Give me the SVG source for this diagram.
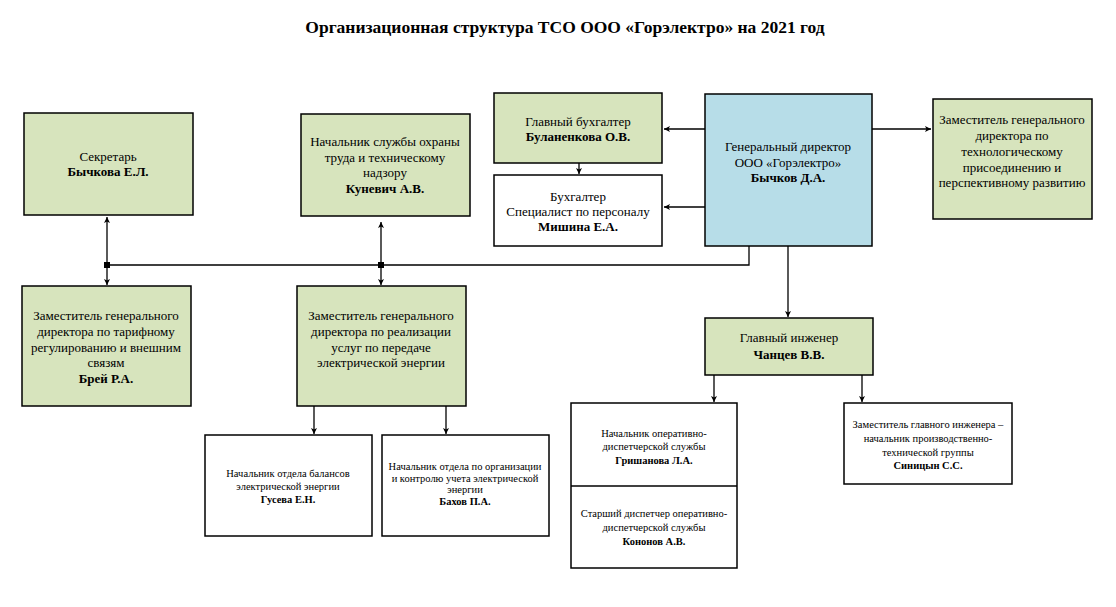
<svg xmlns="http://www.w3.org/2000/svg" width="1116" height="607" viewBox="0 0 1116 607">
<style>
.box{stroke:#000;stroke-width:1.5}
.g{fill:#d7e4bd}
.b{fill:#b7dde8}
.w{fill:#fff}
text{font-family:"Liberation Serif","Times New Roman",serif;fill:#000;text-anchor:middle}
.t13{font-size:13px}
.t11{font-size:10.5px}
.bold{font-weight:bold}
.title{font-size:17.5px;font-weight:bold}
.c{stroke:#000;stroke-width:1.3;fill:none}
</style>
<defs>
<marker id="ar" markerUnits="userSpaceOnUse" markerWidth="8" markerHeight="8" refX="6" refY="3" orient="auto">
<path d="M0,0 L6,3 L0,6 L1.5,3 z" fill="#000"/>
</marker>
</defs>
<rect width="1116" height="607" fill="#fff"/>
<text class="title" x="565" y="33">Организационная структура ТСО ООО «Горэлектро» на 2021 год</text>

<g id="connectors">
<path class="c" d="M107,265 H749 V246"/>
<path class="c" d="M107,265 V217" marker-end="url(#ar)"/>
<path class="c" d="M107,265 V285" marker-end="url(#ar)"/>
<path class="c" d="M381,265 V222" marker-end="url(#ar)"/>
<path class="c" d="M381,265 V285" marker-end="url(#ar)"/>
<rect x="104" y="262" width="6" height="6" fill="#000"/>
<rect x="378" y="262" width="6" height="6" fill="#000"/>
<path class="c" d="M705,129 H664" marker-end="url(#ar)"/>
<path class="c" d="M705,207 H664" marker-end="url(#ar)"/>
<path class="c" d="M872,129 H931" marker-end="url(#ar)"/>
<path class="c" d="M579,163 V174" marker-end="url(#ar)"/>
<path class="c" d="M788,246 V317" marker-end="url(#ar)"/>
<path class="c" d="M714,375 V402" marker-end="url(#ar)"/>
<path class="c" d="M862,375 V402" marker-end="url(#ar)"/>
<path class="c" d="M314,406 V434" marker-end="url(#ar)"/>
<path class="c" d="M446,406 V434" marker-end="url(#ar)"/>
</g>

<g id="secretary">
<rect class="box g" x="24" y="113" width="169" height="102"/>
<text class="t13" x="108" y="161">Секретарь</text>
<text class="t13 bold" x="108" y="176">Бычкова Е.Л.</text>
</g>

<g id="safety">
<rect class="box g" x="301" y="114" width="169" height="102"/>
<text class="t13" x="385" y="146">Начальник службы охраны</text>
<text class="t13" x="385" y="161.5">труда и техническому</text>
<text class="t13" x="385" y="177">надзору</text>
<text class="t13 bold" x="385" y="193">Куневич А.В.</text>
</g>

<g id="chief-accountant">
<rect class="box g" x="494" y="93" width="168" height="70"/>
<text class="t13" x="578" y="126">Главный бухгалтер</text>
<text class="t13 bold" x="578" y="141">Буланенкова О.В.</text>
</g>

<g id="accountant">
<rect class="box w" x="494" y="175" width="168" height="71"/>
<text class="t13" x="578" y="201">Бухгалтер</text>
<text class="t13" x="578" y="216">Специалист по персоналу</text>
<text class="t13 bold" x="578" y="231">Мишина Е.А.</text>
</g>

<g id="general-director">
<rect class="box b" x="705" y="94" width="167" height="152"/>
<text class="t13" x="788" y="151">Генеральный директор</text>
<text class="t13" x="788" y="167">ООО «Горэлектро»</text>
<text class="t13 bold" x="788" y="182">Бычков Д.А.</text>
</g>

<g id="deputy-tech">
<rect class="box g" x="933" y="99" width="159" height="120"/>
<text class="t13" x="1012" y="124">Заместитель генерального</text>
<text class="t13" x="1012" y="140">директора по</text>
<text class="t13" x="1012" y="156">технологическому</text>
<text class="t13" x="1012" y="172">присоединению и</text>
<text class="t13" x="1012" y="187">перспективному развитию</text>
</g>

<g id="deputy-tariff">
<rect class="box g" x="22" y="286" width="169" height="120"/>
<text class="t13" x="106" y="320">Заместитель генерального</text>
<text class="t13" x="106" y="336">директора по тарифному</text>
<text class="t13" x="106" y="352">регулированию и внешним</text>
<text class="t13" x="106" y="367">связям</text>
<text class="t13 bold" x="106" y="383">Брей Р.А.</text>
</g>

<g id="deputy-sales">
<rect class="box g" x="297" y="286" width="169" height="120"/>
<text class="t13" x="381" y="320">Заместитель генерального</text>
<text class="t13" x="381" y="336">директора по реализации</text>
<text class="t13" x="381" y="352">услуг по передаче</text>
<text class="t13" x="381" y="367">электрической энергии</text>
</g>

<g id="chief-engineer">
<rect class="box g" x="705" y="318" width="168" height="57"/>
<text class="t13" x="789" y="342">Главный инженер</text>
<text class="t13 bold" x="789" y="359">Чанцев В.В.</text>
</g>

<g id="balance-head">
<rect class="box w" x="205" y="435" width="167" height="101"/>
<text class="t11" x="288" y="477">Начальник отдела балансов</text>
<text class="t11" x="288" y="490">электрической энергии</text>
<text class="t11 bold" x="288" y="503">Гусева Е.Н.</text>
</g>

<g id="metering-head">
<rect class="box w" x="382" y="435" width="167" height="101"/>
<text class="t11" x="465" y="470">Начальник отдела по организации</text>
<text class="t11" x="465" y="482">и контролю учета электрической</text>
<text class="t11" x="465" y="493">энергии</text>
<text class="t11 bold" x="465" y="505">Бахов П.А.</text>
</g>

<g id="dispatch">
<rect class="box w" x="571" y="403" width="166" height="165"/>
<line class="box" x1="571" y1="486" x2="737" y2="486"/>
<text class="t11" x="654" y="437">Начальник оперативно-</text>
<text class="t11" x="654" y="450">диспетчерской службы</text>
<text class="t11 bold" x="654" y="464">Гришанова Л.А.</text>
<text class="t11" x="654" y="517">Старший диспетчер оперативно-</text>
<text class="t11" x="654" y="531">диспетчерской службы</text>
<text class="t11 bold" x="654" y="545">Кононов А.В.</text>
</g>

<g id="deputy-chief-engineer">
<rect class="box w" x="844" y="403" width="168" height="81"/>
<text class="t11" x="928" y="428">Заместитель главного инженера –</text>
<text class="t11" x="928" y="442">начальник производственно-</text>
<text class="t11" x="928" y="456">технической группы</text>
<text class="t11 bold" x="928" y="469">Синицын С.С.</text>
</g>
</svg>
